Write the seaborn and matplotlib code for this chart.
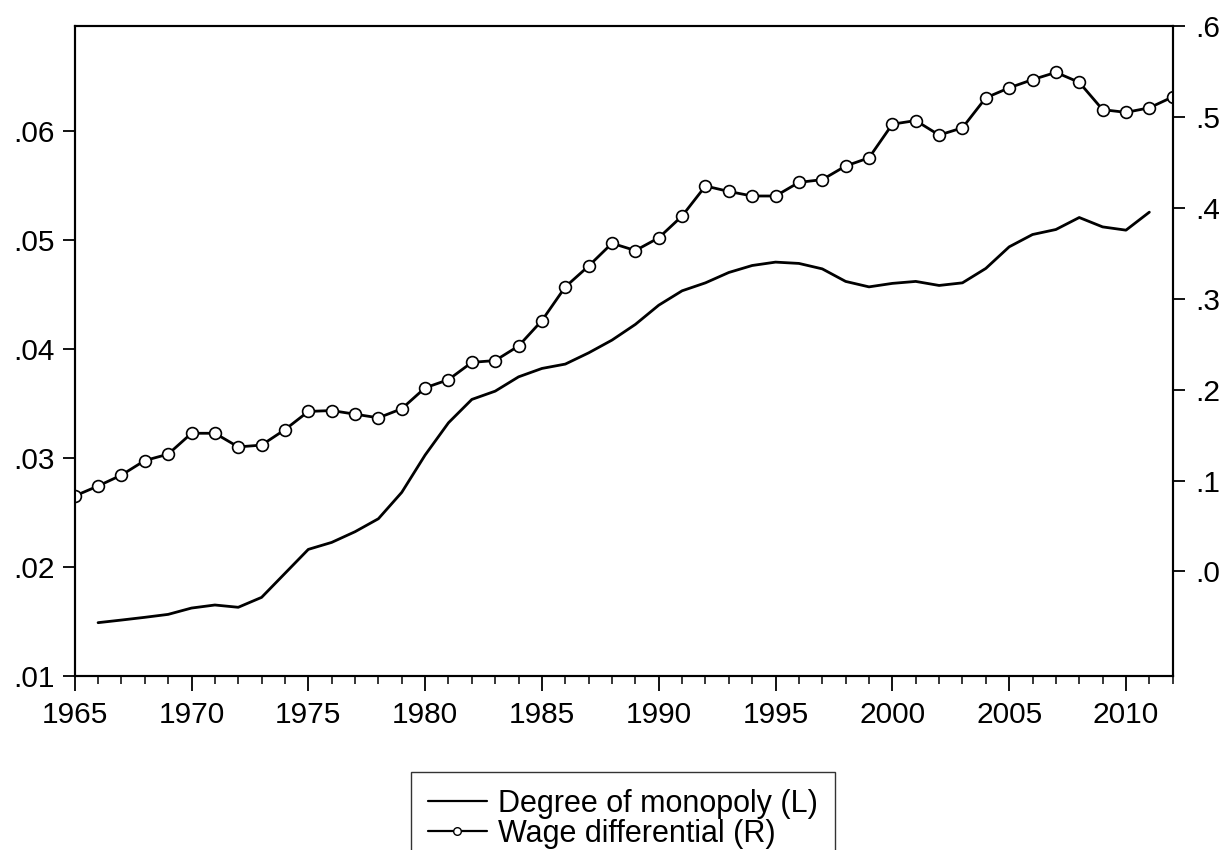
import numpy as np
import pandas as pd
import matplotlib
matplotlib.use("Agg")
import matplotlib.pyplot as plt
from matplotlib.lines import Line2D
from matplotlib.ticker import MultipleLocator, FuncFormatter
import seaborn as sns

# Wage differential (right axis), 1965-2012
wage_years = list(range(1965, 2013))
wage_diff = [0.083, 0.094, 0.106, 0.122, 0.129, 0.152, 0.152, 0.137, 0.139, 0.156,
             0.176, 0.177, 0.173, 0.169, 0.179, 0.202, 0.211, 0.230, 0.232, 0.248,
             0.276, 0.313, 0.336, 0.361, 0.353, 0.367, 0.391, 0.424, 0.418, 0.413,
             0.413, 0.428, 0.431, 0.446, 0.455, 0.492, 0.496, 0.480, 0.488, 0.521,
             0.532, 0.541, 0.549, 0.538, 0.508, 0.505, 0.510, 0.522]

# Degree of monopoly (left axis), 1966-2011
mono_years = list(range(1966, 2012))
monopoly = [0.01489, 0.01513, 0.01538, 0.01565, 0.01623, 0.01651, 0.01630, 0.01721,
            0.01941, 0.02161, 0.02225, 0.02323, 0.02442, 0.02684, 0.03026, 0.03322,
            0.03536, 0.03612, 0.03743, 0.03820, 0.03860, 0.03963, 0.04080, 0.04224,
            0.04400, 0.04532, 0.04605, 0.04700, 0.04764, 0.04795, 0.04783, 0.04733,
            0.04618, 0.04568, 0.04600, 0.04618, 0.04581, 0.04605, 0.04737, 0.04935,
            0.05048, 0.05094, 0.05204, 0.05118, 0.05088, 0.05253]

labels = ["Degree of monopoly (L)", "Wage differential (R)"]

sns.set_style("ticks")
plt.rcParams["font.family"] = ["Liberation Sans", "DejaVu Sans"]
plt.rcParams["text.color"] = "black"
plt.rcParams["xtick.color"] = "black"
plt.rcParams["ytick.color"] = "black"
plt.rcParams["xtick.labelcolor"] = "black"
plt.rcParams["ytick.labelcolor"] = "black"
FS = 21.5

fig = plt.figure(figsize=(12.24, 8.5), dpi=100)
ax = fig.add_axes([74.7 / 1224, 1 - 676 / 850, (1172.7 - 74.7) / 1224, 650 / 850])
ax2 = ax.twinx()

sns.lineplot(x=mono_years, y=monopoly, ax=ax, color="black", linewidth=2.0)
sns.lineplot(x=wage_years, y=wage_diff, ax=ax2, color="black", linewidth=2.0,
             marker="o", markersize=8.5, markerfacecolor="white",
             markeredgecolor="black", markeredgewidth=1.2)

ax.set_xlim(1965, 2012)
ax.set_ylim(0.01, 0.0696)
ax2.set_ylim(-0.115, 0.6)

ax.xaxis.set_major_locator(MultipleLocator(5))
ax.xaxis.set_minor_locator(MultipleLocator(1))
ax.set_yticks([0.01, 0.02, 0.03, 0.04, 0.05, 0.06])
ax2.set_yticks([0.0, 0.1, 0.2, 0.3, 0.4, 0.5, 0.6])
ax.yaxis.set_major_formatter(FuncFormatter(lambda v, p: f"{v:.2f}".lstrip("0")))
ax2.yaxis.set_major_formatter(FuncFormatter(lambda v, p: f"{v:.1f}".lstrip("0")))

ax.tick_params(axis="x", which="major", direction="out", length=11, width=1.3,
               labelsize=FS, pad=7, top=False)
ax.tick_params(axis="x", which="minor", direction="out", length=6, width=1.1, top=False)
ax.tick_params(axis="y", direction="out", length=8.5, width=1.3, labelsize=FS, pad=6)
ax2.tick_params(axis="y", direction="out", length=8.5, width=1.3, labelsize=FS, pad=8)

for a in (ax, ax2):
    for s in a.spines.values():
        s.set_visible(True)
        s.set_linewidth(1.5)
        s.set_color("black")
    a.set_xlabel("")
    a.set_ylabel("")
    if a.get_legend():
        a.get_legend().remove()

handles = [Line2D([], [], color="black", linewidth=1.6),
           Line2D([], [], color="black", linewidth=1.6, marker="o", markersize=5.5,
                  markerfacecolor="white", markeredgecolor="black", markeredgewidth=1)]
leg = fig.legend(handles, labels, loc="upper left",
                 bbox_to_anchor=(410.7 / 1224, 1 - 771.7 / 850),
                 frameon=True, fancybox=False, fontsize=22, handlelength=1.95,
                 handletextpad=0.36, labelspacing=0.0, borderpad=0.55,
                 borderaxespad=0)
leg.get_frame().set_edgecolor("black")
leg.get_frame().set_linewidth(1.0)

fig.savefig("out.png", dpi=100)
